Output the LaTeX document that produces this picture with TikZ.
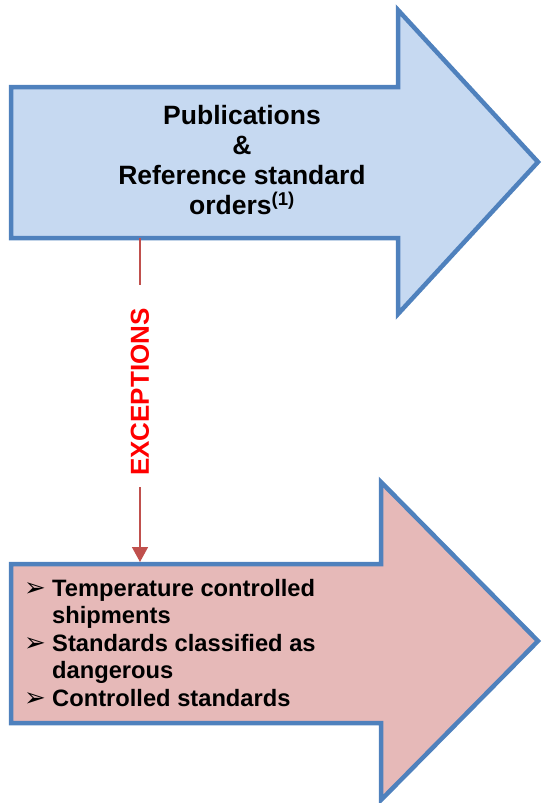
\documentclass[tikz,border=0pt]{standalone}
\usepackage{fontspec}
\setmainfont{Liberation Sans}
\newfontfamily\dingfont{DejaVu Sans}
\usetikzlibrary{arrows.meta}

\definecolor{outlineblue}{HTML}{4F81BD}
\definecolor{pubfill}{HTML}{C6D9F1}
\definecolor{excfill}{HTML}{E6B9B8}
\definecolor{excred}{HTML}{FF0000}
\definecolor{linkred}{HTML}{C0504D}

\newcommand{\itembullet}{\makebox[28pt][l]{\smash{\dingfont\fontsize{26}{26}\selectfont ➢}}}
\newcommand{\itemgap}{\hspace*{28pt}}

\begin{document}
\begin{tikzpicture}[x=1pt, y=-1pt,
    bigarrow/.style = {draw=outlineblue, line width=4.5pt, line join=miter},
    pubtext/.style = {align=center, inner sep=0, font=\bfseries\fontsize{26.5}{30.3}\selectfont},
    itemtext/.style = {align=left, inner sep=0, font=\bfseries\fontsize{23.7}{27.5}\selectfont},
    exclabel/.style = {rotate=90, inner sep=0, text=excred, font=\bfseries\fontsize{26}{30}\selectfont},
    linkline/.style = {color=linkred, line width=1.5pt}]
\useasboundingbox (0,0) rectangle (544,803);

% upper arrow
\draw[bigarrow, fill=pubfill] (11,87) -- (398,87) -- (398,10) -- (538,162)
    -- (398,314) -- (398,238) -- (11,238) -- cycle;
\node[pubtext] at (242,160) (pub) {Publications\\\&\\Reference standard\\orders\textsuperscript{(1)}};
\coordinate (pubfoot) at (140,238);

% lower arrow
\draw[bigarrow, fill=excfill] (11,564) -- (381,564) -- (381,482) -- (538,641)
    -- (381,800) -- (381,723) -- (11,723) -- cycle;
\node[itemtext, anchor=west] at (24,643) (items) {\itembullet Temperature controlled\\
    \itemgap shipments\\
    \itembullet Standards classified as\\
    \itemgap dangerous\\
    \itembullet Controlled standards};
\coordinate (excfoot) at (140,562);

% exceptions link
\node[exclabel] at (140,392) (exc) {EXCEPTIONS};
\path[linkline]
    (pubfoot) edge[shorten >=23pt] (exc.east)
    (exc.west) edge[shorten <=11pt, -{Triangle[width=16pt, length=15pt]}] (excfoot);

\end{tikzpicture}
\end{document}
